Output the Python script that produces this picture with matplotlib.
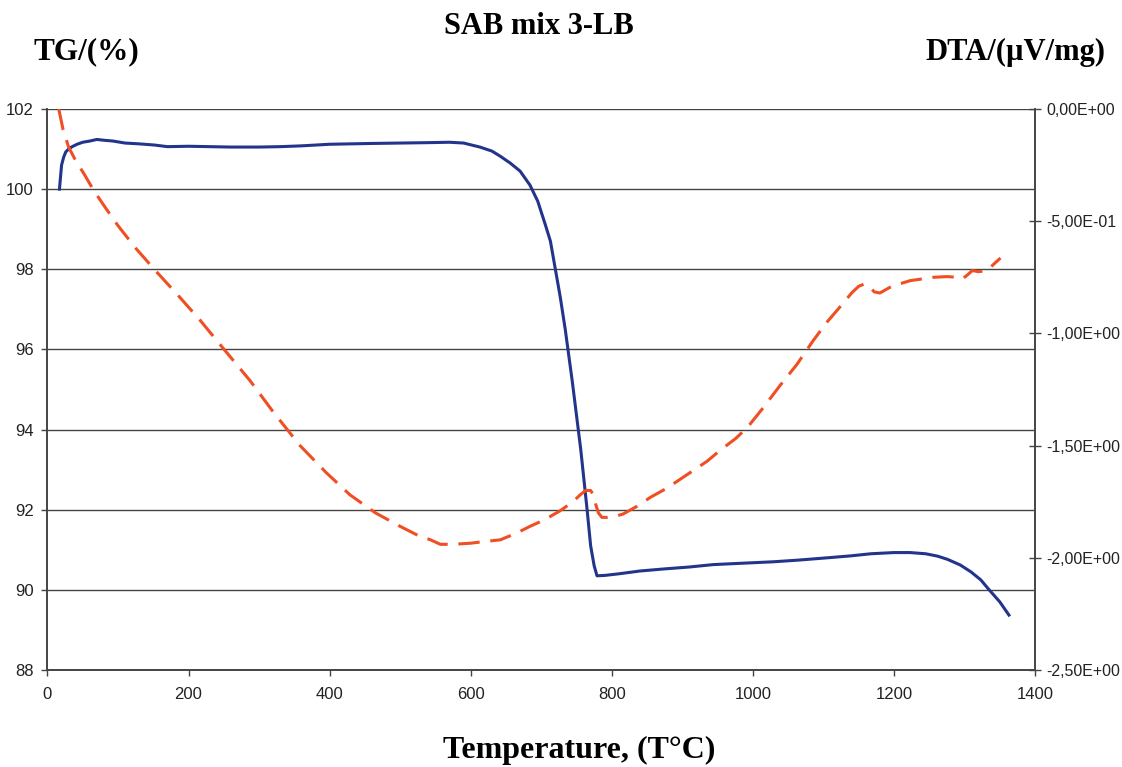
import numpy as np
import matplotlib
matplotlib.use('Agg')
import matplotlib.pyplot as plt
from matplotlib.ticker import FuncFormatter

# TG curve (%)
tg_temp = [17, 20, 23, 26, 30, 35, 42, 50, 60, 70, 80, 93, 110, 130, 152, 170,
           200, 230, 260, 300, 330, 360, 400, 430, 460, 500, 540, 570, 590, 613,
           630, 642, 656, 670, 684, 695, 706, 713, 720, 727, 734, 744, 756, 765,
           770, 775, 779, 790, 810, 840, 873, 910, 944, 980, 1029, 1063, 1106,
           1140, 1167, 1200, 1223, 1245, 1262, 1276, 1294, 1309, 1323, 1334, 1350, 1363]
tg_val = [100.0, 100.6, 100.8, 100.93, 101.0, 101.06, 101.12, 101.17, 101.2, 101.24,
          101.22, 101.2, 101.15, 101.13, 101.1, 101.06, 101.07, 101.06, 101.05, 101.05,
          101.06, 101.08, 101.12, 101.13, 101.14, 101.15, 101.16, 101.17, 101.15, 101.05,
          100.95, 100.82, 100.65, 100.45, 100.1, 99.7, 99.1, 98.7, 98.0, 97.3,
          96.5, 95.2, 93.5, 92.0, 91.1, 90.6, 90.35, 90.36, 90.4, 90.47,
          90.52, 90.57, 90.63, 90.66, 90.7, 90.74, 90.8, 90.85, 90.9, 90.93,
          90.93, 90.9, 90.84, 90.76, 90.62, 90.45, 90.25, 90.02, 89.7, 89.37]

# DTA curve (uV/mg)
dta_temp = [16, 22, 30, 40, 52, 65, 80, 100, 125, 153, 185, 216, 250, 287, 320, 358,
            395, 429, 465, 500, 525, 543, 557, 575, 600, 613, 642, 665, 684, 705,
            727, 745, 755, 763, 770, 774, 777, 781, 786, 793, 805, 816, 836, 855,
            878, 897, 916, 935, 954, 975, 992, 1015, 1039, 1062, 1086, 1105, 1124,
            1140, 1150, 1158, 1165, 1172, 1180, 1197, 1223, 1256, 1275, 1290, 1297,
            1304, 1311, 1320, 1332, 1342, 1351]
dta_val = [0.0, -0.09, -0.17, -0.23, -0.29, -0.36, -0.43, -0.52, -0.62, -0.72,
           -0.83, -0.94, -1.07, -1.21, -1.35, -1.50, -1.62, -1.72, -1.80, -1.86,
           -1.90, -1.92, -1.94, -1.94, -1.935, -1.93, -1.92, -1.89, -1.86, -1.83,
           -1.79, -1.75, -1.72, -1.70, -1.70, -1.72, -1.76, -1.80, -1.82, -1.82,
           -1.815, -1.805, -1.77, -1.73, -1.69, -1.65, -1.61, -1.57, -1.52, -1.47,
           -1.42, -1.33, -1.23, -1.14, -1.03, -0.95, -0.88, -0.82, -0.79, -0.78,
           -0.79, -0.815, -0.82, -0.79, -0.765, -0.75, -0.747, -0.75, -0.757,
           -0.74, -0.72, -0.725, -0.72, -0.69, -0.664]

x_ticks = [0, 200, 400, 600, 800, 1000, 1200, 1400]
tg_ticks = [88, 90, 92, 94, 96, 98, 100, 102]
dta_ticks = [0.0, -0.5, -1.0, -1.5, -2.0, -2.5]

tick_font = 'Liberation Sans'
title_font = 'Liberation Serif'

fig = plt.figure(figsize=(11.22, 7.67), dpi=100)
ax = fig.add_axes([0.0423, 0.1265, 0.8802, 0.7314])
ax2 = ax.twinx()

ax.plot(tg_temp, tg_val, color='#22348c', lw=2.2, zorder=3)
ax2.plot(dta_temp, dta_val, color='#f04e23', lw=2.2, dashes=(7, 3.5))

ax.set_xlim(0, 1400)
ax.set_ylim(88, 102)
ax2.set_ylim(-2.5, 0)
ax.set_xticks(x_ticks)
ax.set_yticks(tg_ticks)
ax2.set_yticks(dta_ticks)
ax2.yaxis.set_major_formatter(FuncFormatter(lambda v, p: f"{v:.2E}".replace('.', ',').replace('-0,00', '0,00')))

ax.yaxis.grid(True, color='#444444', lw=1.0)
ax.set_axisbelow(True)

for a in (ax, ax2):
    a.spines['top'].set_visible(False)
    for s in a.spines.values():
        s.set_color('#444444')
        s.set_linewidth(1.2)
ax.tick_params(axis='both', labelsize=12, colors='#444444', labelcolor='#222222', length=4, width=1)
ax.tick_params(axis='y', pad=6)
ax.tick_params(axis='x', pad=8)
ax2.tick_params(axis='y', labelsize=11.5, colors='#444444', labelcolor='#222222', length=8, width=1, direction='inout', pad=4)
for a in (ax, ax2):
    for lab in a.get_xticklabels() + a.get_yticklabels():
        lab.set_fontfamily(tick_font)

fig.text(0.48, 0.965, 'SAB mix 3-LB', ha='center', va='center', fontsize=22, fontweight='bold', family=title_font)
fig.text(0.0766, 0.932, 'TG/(%)', ha='center', va='center', fontsize=22.5, fontweight='bold', family=title_font)
fig.text(0.905, 0.932, 'DTA/(µV/mg)', ha='center', va='center', fontsize=22, fontweight='bold', family=title_font)
fig.text(0.516, 0.022, 'Temperature, (T°C)', ha='center', va='center', fontsize=23, fontweight='bold', family=title_font)

fig.savefig('out.png', dpi=100)
